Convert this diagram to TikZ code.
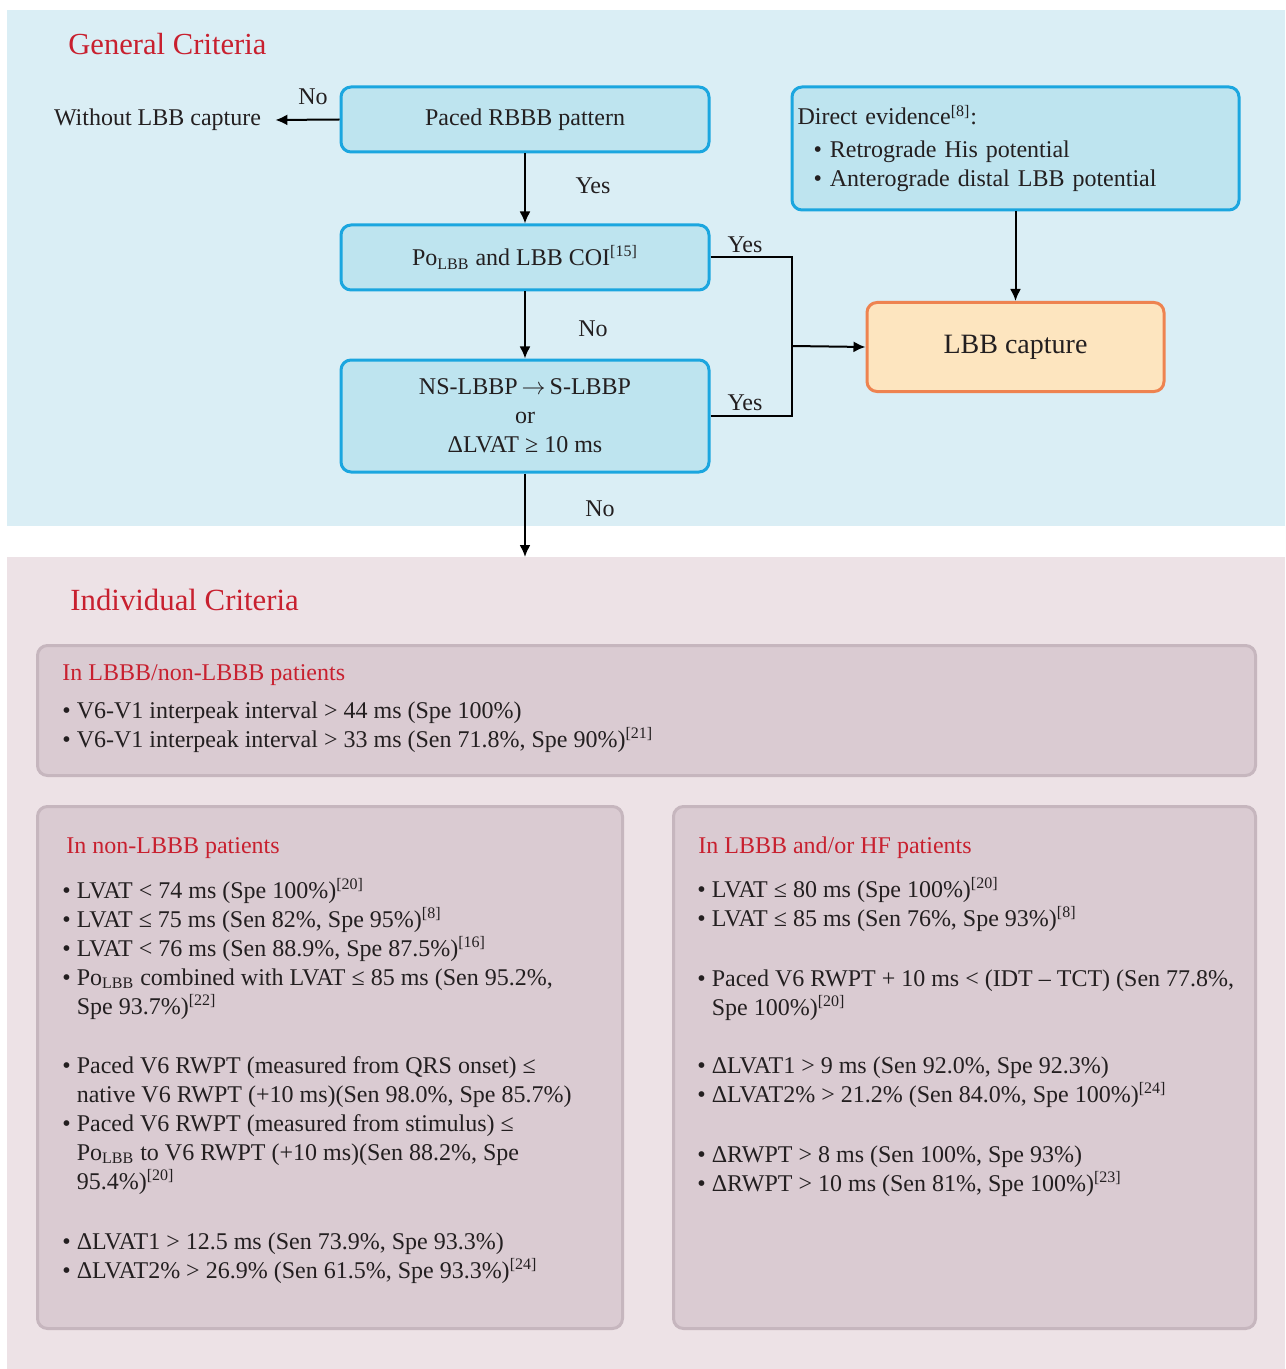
\documentclass[tikz,border=0pt]{standalone}
\usepackage{fontspec}
\setmainfont{Liberation Serif}
\usepackage{tikz}
\usetikzlibrary{arrows.meta}
\definecolor{topBg}{HTML}{DAEEF5}
\definecolor{botBg}{HTML}{EDE2E6}
\definecolor{boxBlue}{HTML}{BEE4EF}
\definecolor{lineBlue}{HTML}{1BA6DF}
\definecolor{boxOrange}{HTML}{FDE5BF}
\definecolor{lineOrange}{HTML}{EE8350}
\definecolor{boxMauve}{HTML}{DACBD2}
\definecolor{lineMauve}{HTML}{C6B6BE}
\definecolor{titleRed}{HTML}{C8202F}
\definecolor{txtBlack}{HTML}{231F20}
\newcommand{\bl}{\textbullet\ }
\newcommand{\ind}{\hphantom{\textbullet\ }}
\tikzstyle{edge}=[->, >={Latex[length=6pt,width=5.5pt]}, line width=1pt, draw=black]
\tikzstyle{edgePlain}=[line width=1pt, draw=black]
\tikzstyle{blueBox}=[draw=lineBlue, fill=boxBlue, rounded corners=5pt, line width=1.5pt, align=center]
\tikzstyle{orangeBox}=[draw=lineOrange, fill=boxOrange, rounded corners=5pt, line width=1.5pt]
\tikzstyle{mauveBox}=[draw=lineMauve, fill=boxMauve, rounded corners=5pt, line width=1.5pt]
\tikzstyle{txt}=[inner sep=0pt, anchor=base west, align=left]
\tikzstyle{redHead}=[txt, text=titleRed]

\begin{document}
\begin{tikzpicture}[x=0.5pt, y=-0.5pt, font=\fontsize{12pt}{14.5pt}\selectfont, text=txtBlack]
  \useasboundingbox (0,0) rectangle (1285,1369);
  \fill[topBg] (7,10) rectangle (1285,526);
  \fill[botBg] (7,557) rectangle (1285,1369);

  % general criteria
  \node(gen) [redHead, font=\fontsize{15.3pt}{18pt}\selectfont] at (68,55) {General Criteria};
  \node(rbbb) [blueBox, minimum width=184pt, minimum height=32.5pt] at (525,119.5) {Paced RBBB pattern};
  \node(polbb) [blueBox, minimum width=184pt, minimum height=32.5pt] at (525,257.5) {Po\textsubscript{LBB} and LBB COI\textsuperscript{[15]}};
  \node(nslbbp) [blueBox, minimum width=184pt, minimum height=56pt] at (525,416) {NS-LBBP\,$\rightarrow$\,S-LBBP\\ or\\ ΔLVAT ≥ 10 ms};
  \node(direct) [blueBox, minimum width=223.5pt, minimum height=61.5pt, text width=218pt, inner xsep=2.5pt, align=left] at (1015.5,148.5)
    {Direct evidence\textsuperscript{[8]}:\\[2pt]
     \hspace*{8pt}\bl Retrograde His potential\\
     \hspace*{8pt}\bl Anterograde distal LBB potential};
  \node(lbb) [orangeBox, minimum width=148.5pt, minimum height=44.5pt, font=\fontsize{14pt}{17pt}\selectfont] at (1015.5,347) {LBB capture};
  \node(nolbb) [inner xsep=7pt] at (157.5,120) {Without LBB capture};
  \coordinate(join) at (792,346);
  \coordinate(down) at (525,557);

  \draw[edge] (rbbb.west) -- (nolbb.east);
  \draw[edge] (rbbb.south) -- (polbb.north);
  \draw[edge] (polbb.south) -- (nslbbp.north);
  \draw[edge] (nslbbp.south) -- (down);
  \draw[edgePlain] (polbb.east) -| (join);
  \draw[edgePlain] (nslbbp.east) -| (join);
  \draw[edge] (join) -- (lbb.west);
  \draw[edge] (direct.south) -- (lbb.north);

  \node(no1) at (313,97) {No};
  \node(yes1) at (593,186) {Yes};
  \node(no2) at (593,329) {No};
  \node(no3) at (600,509) {No};
  \node(yes2) at (745,245) {Yes};
  \node(yes3) at (745,403) {Yes};

  % individual criteria
  \node(ind) [redHead, font=\fontsize{15.4pt}{18pt}\selectfont] at (70,610) {Individual Criteria};
  \node(critAll) [mauveBox, minimum width=609pt, minimum height=65pt] at (646.5,710.5) {};
  \node(critNon) [mauveBox, minimum width=292.5pt, minimum height=261pt] at (330,1067.5) {};
  \node(critHF) [mauveBox, minimum width=291pt, minimum height=261pt] at (964.5,1067.5) {};

  \node(hAll) [redHead] at (62,680) {In LBBB/non-LBBB patients};
  \node(tAll) [txt] at (62,747) {\bl V6-V1 interpeak interval > 44 ms (Spe 100\%)\\
    \bl V6-V1 interpeak interval > 33 ms (Sen 71.8\%, Spe 90\%)\textsuperscript{[21]}};

  \node(hNon) [redHead] at (66,853) {In non-LBBB patients};
  \node(tNonA) [txt] at (62,1014) {\bl LVAT < 74 ms (Spe 100\%)\textsuperscript{[20]}\\
    \bl LVAT ≤ 75 ms (Sen 82\%, Spe 95\%)\textsuperscript{[8]}\\
    \bl LVAT < 76 ms (Sen 88.9\%, Spe 87.5\%)\textsuperscript{[16]}\\
    \bl Po\textsubscript{LBB} combined with LVAT ≤ 85 ms (Sen 95.2\%,\\
    \ind Spe 93.7\%)\textsuperscript{[22]}};
  \node(tNonB) [txt] at (62,1189) {\bl Paced V6 RWPT (measured from QRS onset) ≤\\
    \ind native V6 RWPT (+10 ms)(Sen 98.0\%, Spe 85.7\%)\\
    \bl Paced V6 RWPT (measured from stimulus) ≤\\
    \ind Po\textsubscript{LBB} to V6 RWPT (+10 ms)(Sen 88.2\%, Spe\\
    \ind 95.4\%)\textsuperscript{[20]}};
  \node(tNonC) [txt] at (62,1278) {\bl ΔLVAT1 > 12.5 ms (Sen 73.9\%, Spe 93.3\%)\\
    \bl ΔLVAT2\% > 26.9\% (Sen 61.5\%, Spe 93.3\%)\textsuperscript{[24]}};

  \node(hHF) [redHead] at (698,853) {In LBBB and/or HF patients};
  \node(tHFA) [txt] at (697,926) {\bl LVAT ≤ 80 ms (Spe 100\%)\textsuperscript{[20]}\\
    \bl LVAT ≤ 85 ms (Sen 76\%, Spe 93\%)\textsuperscript{[8]}};
  \node(tHFB) [txt] at (697,1015) {\bl Paced V6 RWPT + 10 ms < (IDT – TCT) (Sen 77.8\%,\\
    \ind Spe 100\%)\textsuperscript{[20]}};
  \node(tHFC) [txt] at (697,1102) {\bl ΔLVAT1 > 9 ms (Sen 92.0\%, Spe 92.3\%)\\
    \bl ΔLVAT2\% > 21.2\% (Sen 84.0\%, Spe 100\%)\textsuperscript{[24]}};
  \node(tHFD) [txt] at (697,1191) {\bl ΔRWPT > 8 ms (Sen 100\%, Spe 93\%)\\
    \bl ΔRWPT > 10 ms (Sen 81\%, Spe 100\%)\textsuperscript{[23]}};
\end{tikzpicture}
\end{document}
